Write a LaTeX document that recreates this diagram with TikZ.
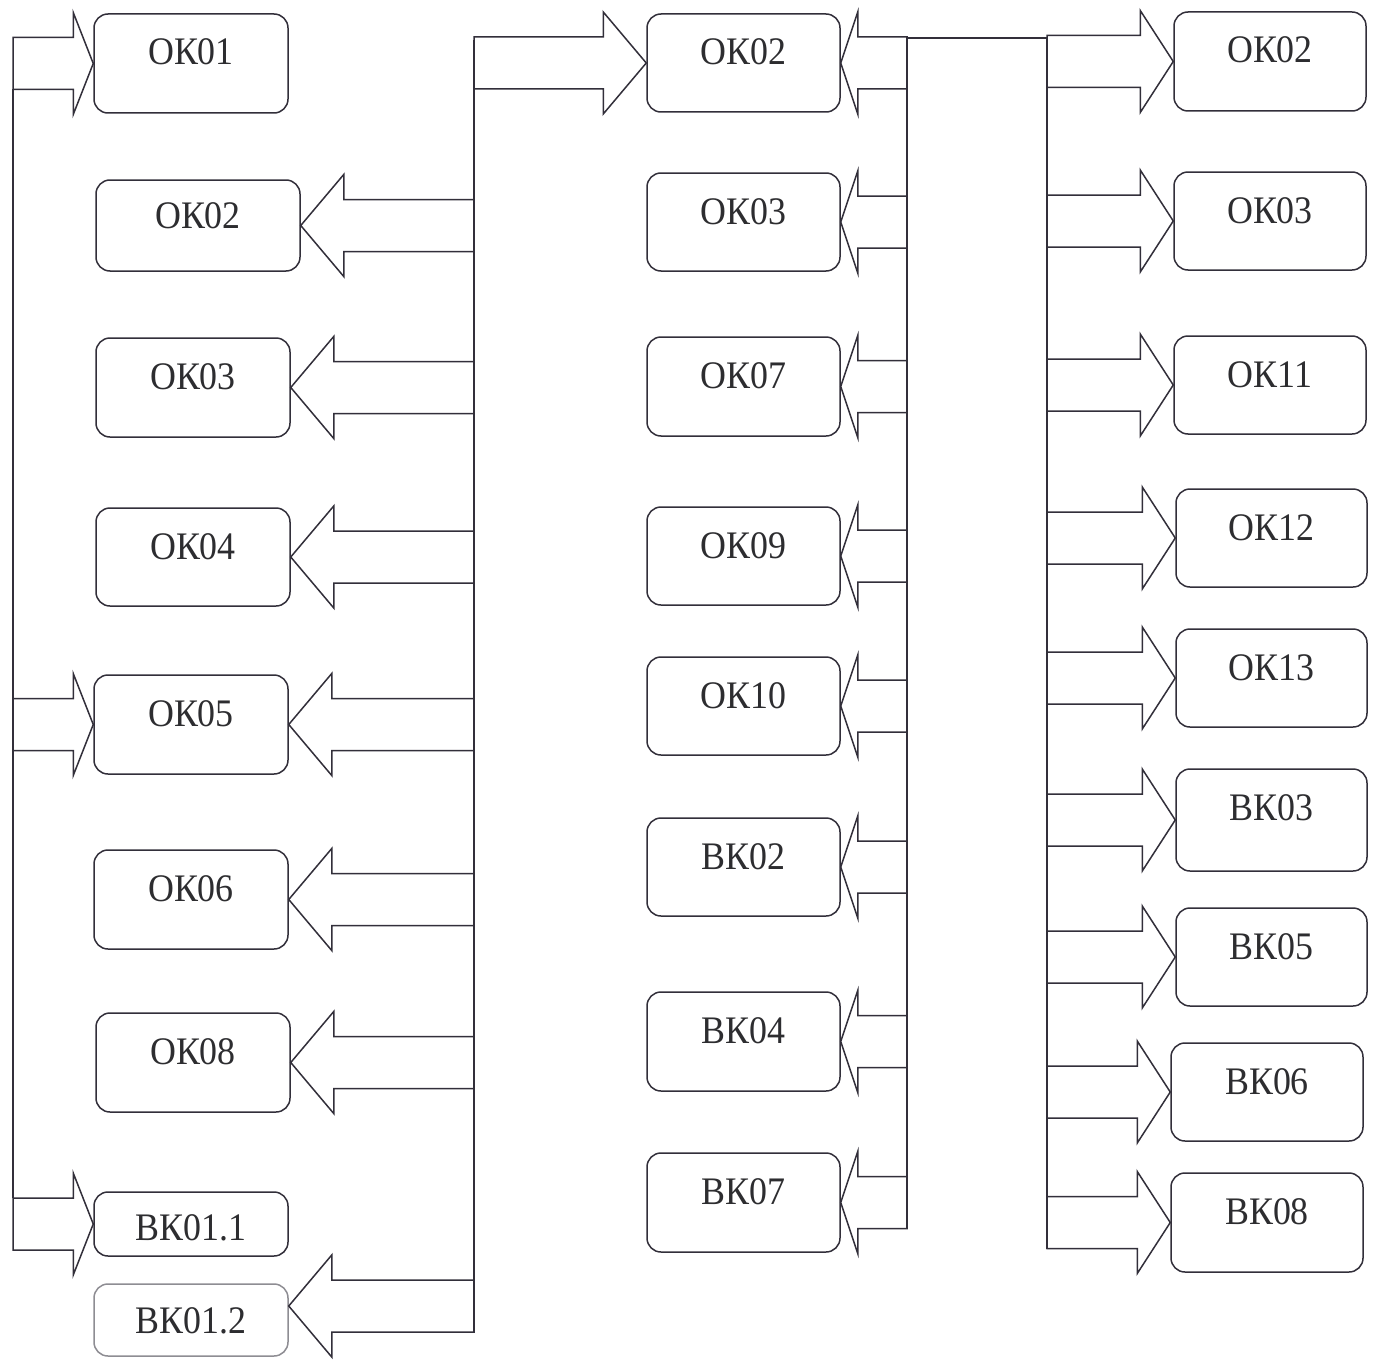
\documentclass[tikz,border=0pt]{standalone}
\usepackage{fontspec}
\setmainfont{Liberation Serif}[FakeStretch=0.92]
\usetikzlibrary{calc}
\definecolor{ink}{RGB}{50,47,58}
\definecolor{txt}{RGB}{45,45,48}
% box: name, cx, cy, width, height, text
\newcommand\bx[7][]{\pgfmathsetmacro\bxd{#6-51}%
  \node[box, minimum width=#5, minimum height=#6, text depth=\bxd pt, #1] (#2) at (#3,#4) {#7};}
% block arrow: tip coordinate, bus coordinate, x offset of head base from tip
\newcommand\blockarr[3]{%
  \path #1 coordinate (tp) ++(#3,-26) coordinate (sa) ++(0,-25) coordinate (ha)
        (tp) ++(#3,26) coordinate (sb) ++(0,25) coordinate (hb);
  \draw[arr] (#2 |- sa) -- (sa) -- (ha) -- (tp) -- (hb) -- (sb) -- (#2 |- sb) -- cycle;}
\begin{document}
\begin{tikzpicture}[x=1pt,y=-1pt,
  box/.style={draw=ink, line width=1.5pt, rounded corners=14pt, inner sep=0pt,
    text height=51pt, text=txt, font=\fontsize{39}{40}\selectfont},
  arr/.style={draw=ink, line width=1.5pt, line join=miter},
  bus/.style={draw=ink, line width=1.5pt}]
\useasboundingbox[fill=white] (0,0) rectangle (1375,1370);

% left column
\bx{L01}{191}{63.5}{194}{99}{ОК01}
\bx[text height=48pt, text depth=43pt]{L02}{198}{225.5}{204}{91}{ОК02}
\bx{L03}{193}{387.5}{194}{99}{ОК03}
\bx{L04}{193}{557}{194}{98}{ОК04}
\bx{L05}{191}{724.5}{194}{99}{ОК05}
\bx{L06}{191}{899.5}{194}{99}{ОК06}
\bx{L08}{193}{1062.5}{194}{99}{ОК08}
\bx[text height=48pt, text depth=16pt]{B11}{191}{1224}{194}{64}{ВК01.1}
\bx[draw=ink!55, text height=49pt, text depth=23pt]{B12}{191}{1320}{194}{72}{ВК01.2}

% middle column
\bx{M02}{743.5}{63}{193}{98}{ОК02}
\bx{M03}{743.5}{222}{193}{98}{ОК03}
\bx{M07}{743.5}{386.5}{193}{99}{ОК07}
\bx{M09}{743.5}{556}{193}{98}{ОК09}
\bx{M10}{743.5}{706}{193}{98}{ОК10}
\bx{MB02}{743.5}{867}{193}{98}{ВК02}
\bx{MB04}{743.5}{1041.5}{193}{99}{ВК04}
\bx{MB07}{743.5}{1202.5}{193}{99}{ВК07}

% right column
\bx{R02}{1270}{61.5}{192}{99}{ОК02}
\bx{R03}{1270}{221}{192}{98}{ОК03}
\bx{R11}{1270}{385}{192}{98}{ОК11}
\bx{R12}{1271.5}{538}{191}{98}{ОК12}
\bx{R13}{1271.5}{678}{191}{98}{ОК13}
\bx{RB03}{1271.5}{820}{191}{102}{ВК03}
\bx{RB05}{1271.5}{957}{191}{98}{ВК05}
\bx{RB06}{1267}{1092}{192}{98}{ВК06}
\bx{RB08}{1267}{1222.5}{192}{99}{ВК08}

% buses
\coordinate (b1t) at (13,89.5);   \coordinate (b1b) at (13,1198);
\coordinate (b2t) at (474,40);    \coordinate (b2b) at (474,1332);
\coordinate (b3t) at (907,38);    \coordinate (b3b) at (907,1228.5);
\coordinate (b4t) at (1047,38);   \coordinate (b4b) at (1047,1248.5);
\draw[bus] (b1t) -- (b1b);
\draw[bus] (b2t) -- (b2b);
\draw[bus] (b3b) -- (b3t) -- (b4t) -- (b4b);

% column 1 arrows
\blockarr{(L01.west)}{b1t}{-20}
\blockarr{(L05.west)}{b1t}{-20}
\blockarr{(B11.west)}{b1t}{-20}

% column 2 arrows
\blockarr{(M02.west)}{b2t}{-43}
\blockarr{(L02.east)}{b2t}{43}
\blockarr{(L03.east)}{b2t}{43}
\blockarr{(L04.east)}{b2t}{43}
\blockarr{(L05.east)}{b2t}{43}
\blockarr{(L06.east)}{b2t}{43}
\blockarr{(L08.east)}{b2t}{43}
\blockarr{($(B12.east)+(0,-14)$)}{b2t}{43}

% column 3 arrows
\blockarr{(M02.east)}{b3t}{17}
\blockarr{(M03.east)}{b3t}{17}
\blockarr{(M07.east)}{b3t}{17}
\blockarr{(M09.east)}{b3t}{17}
\blockarr{(M10.east)}{b3t}{17}
\blockarr{(MB02.east)}{b3t}{17}
\blockarr{(MB04.east)}{b3t}{17}
\blockarr{(MB07.east)}{b3t}{17}

% column 4 arrows
\blockarr{(R02.west)}{b4t}{-33}
\blockarr{(R03.west)}{b4t}{-33}
\blockarr{(R11.west)}{b4t}{-33}
\blockarr{(R12.west)}{b4t}{-33}
\blockarr{(R13.west)}{b4t}{-33}
\blockarr{(RB03.west)}{b4t}{-33}
\blockarr{(RB05.west)}{b4t}{-33}
\blockarr{(RB06.west)}{b4t}{-33}
\blockarr{(RB08.west)}{b4t}{-33}
\end{tikzpicture}
\end{document}
